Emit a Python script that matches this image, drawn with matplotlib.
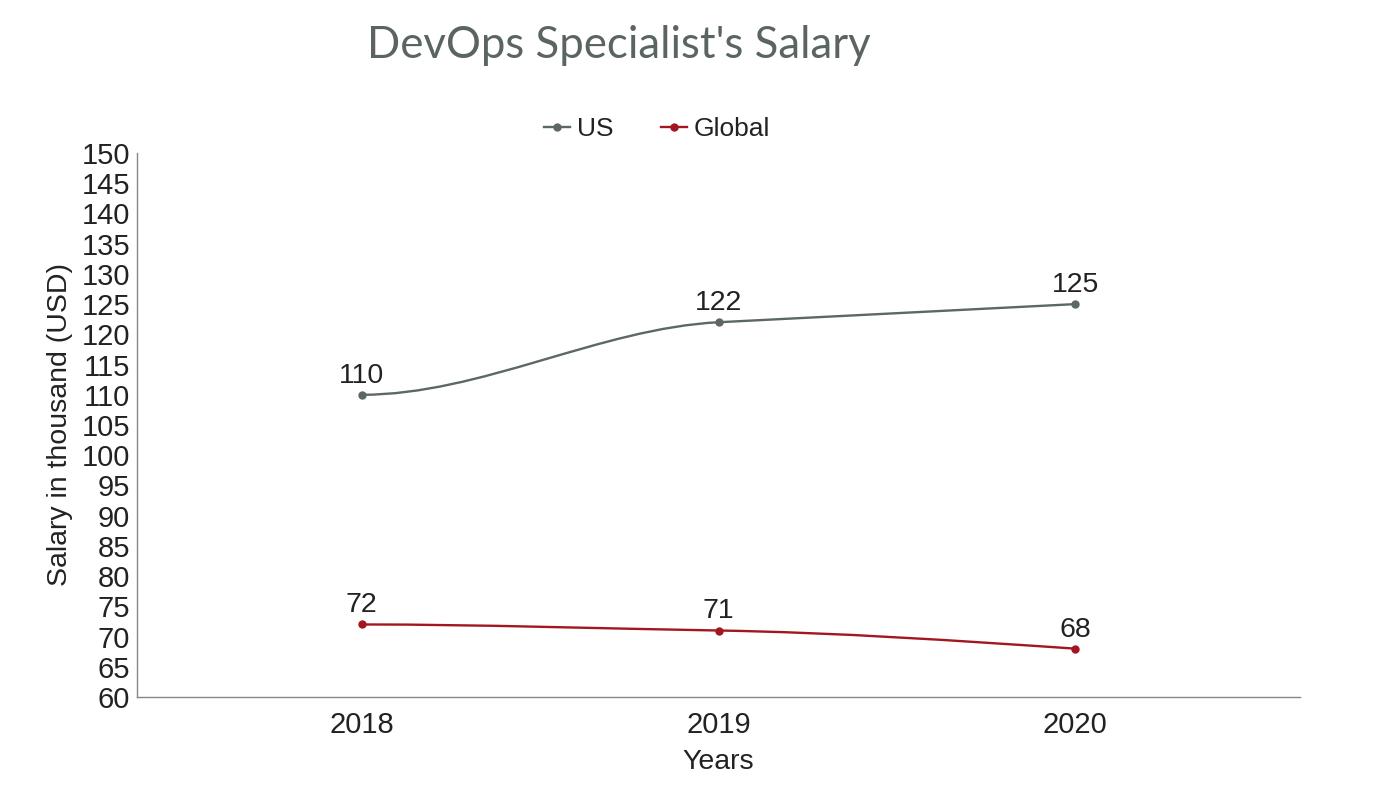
import numpy as np
import matplotlib.pyplot as plt
from matplotlib.path import Path
from matplotlib.patches import PathPatch
from matplotlib.lines import Line2D

# Data
years = ['2018', '2019', '2020']
us_salary = [110, 122, 125]
global_salary = [72, 71, 68]

us_color = '#5b6863'
global_color = '#a3161f'


def smooth_path(xs, ys):
    # cubic bezier segments; flat start, monotone interior, eased end
    xs = np.asarray(xs, float)
    ys = np.asarray(ys, float)
    n = len(xs)
    h = np.diff(xs)
    s = np.diff(ys) / h
    t = np.zeros(n)
    for i in range(1, n - 1):
        if np.sign(s[i - 1]) == np.sign(s[i]):
            t[i] = np.sign(s[i]) * min(abs(s[i - 1]), abs(s[i]))
    t[0] = 0
    t[-1] = (3 * s[-1] - t[-2]) / 2
    verts = [(xs[0], ys[0])]
    codes = [Path.MOVETO]
    for i in range(n - 1):
        dx = h[i] / 3
        verts += [(xs[i] + dx, ys[i] + dx * t[i]),
                  (xs[i + 1] - dx, ys[i + 1] - dx * t[i + 1]),
                  (xs[i + 1], ys[i + 1])]
        codes += [Path.CURVE4] * 3
    return Path(verts, codes)


fig = plt.figure(figsize=(14, 7.88), dpi=100)
ax = fig.add_axes([137 / 1400, 1 - 697 / 788, (1300 - 137) / 1400, (697 - 153) / 788])

x = np.arange(len(years))
for vals, col in [(us_salary, us_color), (global_salary, global_color)]:
    ax.add_patch(PathPatch(smooth_path(x, vals), facecolor='none', edgecolor=col, lw=1.7))
    ax.plot(x, vals, 'o', color=col, markersize=5, zorder=3)
    for xi, v in zip(x, vals):
        ax.text(xi, v + 1.0, str(v), ha='center', va='bottom', fontsize=20.5,
                family='Liberation Sans', color='#222222')

ax.set_xlim(-0.63, 2.63)
ax.set_ylim(60, 150)
ax.set_yticks(range(60, 151, 5))
ax.set_xticks(x)
ax.set_xticklabels(years)
for lab in ax.get_xticklabels() + ax.get_yticklabels():
    lab.set_family('Liberation Sans')
    lab.set_fontsize(21)
    lab.set_color('#222222')
ax.tick_params(axis='y', length=0, pad=5)
ax.tick_params(axis='x', length=0, pad=10)
for sp in ['top', 'right']:
    ax.spines[sp].set_visible(False)
for sp in ['left', 'bottom']:
    ax.spines[sp].set_color('#888888')
    ax.spines[sp].set_linewidth(1)

ax.set_xlabel('Years', family='Liberation Sans', fontsize=20.5, color='#222222', labelpad=7)
ax.set_ylabel('Salary in thousand (USD)', family='Liberation Sans', fontsize=20.5,
              color='#222222', labelpad=6)

fig.text(619 / 1400, 1 - 45 / 788, "DevOps Specialist's Salary", family='Lato',
         fontsize=31.5, color='#5a6561', ha='center', va='center')

handles = [Line2D([], [], color=us_color, lw=1.7, marker='o', markersize=5),
           Line2D([], [], color=global_color, lw=1.7, marker='o', markersize=5)]
fig.legend(handles, ['US', 'Global'], loc='center', bbox_to_anchor=(657 / 1400, 1 - 129 / 788),
           ncol=2, frameon=False, prop={'family': 'Liberation Sans', 'size': 19},
           handlelength=1.0, handletextpad=0.25, columnspacing=1.8, labelcolor='#222222')

fig.savefig('out.png', dpi=100, facecolor='white')
